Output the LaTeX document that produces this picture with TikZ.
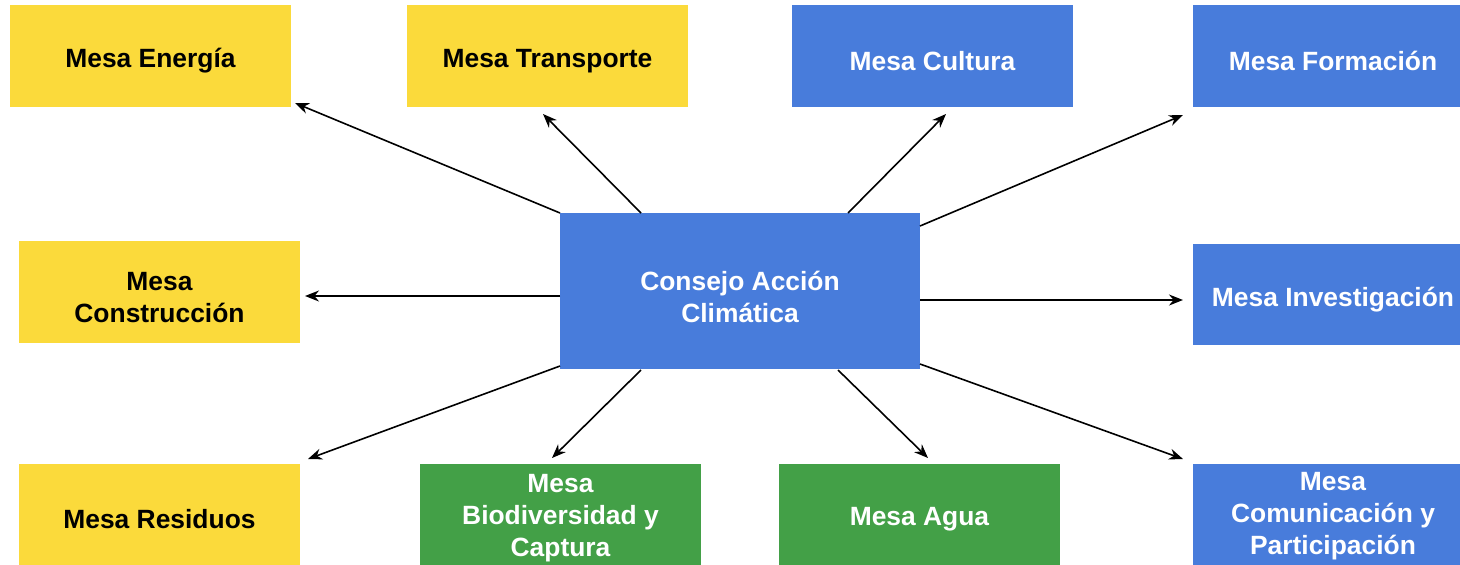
\documentclass[tikz,border=0pt]{standalone}
\usepackage{fontspec}
\setmainfont{Liberation Sans}
\usetikzlibrary{arrows.meta}
\definecolor{myyellow}{RGB}{251,218,59}
\definecolor{myblue}{RGB}{72,124,219}
\definecolor{mygreen}{RGB}{67,160,71}
\begin{document}
\begin{tikzpicture}[x=1pt,y=-1pt,
  box/.style={inner sep=0pt,align=center,font=\fontsize{26.4}{32}\selectfont\bfseries},
  ybox/.style={box,text=black},
  bbox/.style={box,text=white},
  gbox/.style={box,text=white},
  conn/.style={line width=1.6pt,-{Stealth[length=14pt,width=11pt]}}]
\useasboundingbox (0,0) rectangle (1460,565);
% boxes
\fill[myyellow] (10,5) rectangle (291,107);
\node[ybox] (ene) at (150.5,61) {Mesa Energía};
\fill[myyellow] (407,5) rectangle (688,107);
\node[ybox] (tra) at (547.5,61) {Mesa Transporte};
\fill[myblue] (792,5) rectangle (1073,107);
\node[bbox] (cul) at (932.5,61) {Mesa Cultura};
\fill[myblue] (1193,5) rectangle (1460,107);
\node[bbox] (for) at (1333,61) {Mesa Formación};
\fill[myyellow] (19,241) rectangle (300,343);
\node[ybox] (con) at (159.5,298) {Mesa\\Construcción};
\fill[myblue] (560,213) rectangle (920,369);
\node[bbox] (cac) at (740,297) {Consejo Acción\\Climática};
\fill[myblue] (1193,244) rectangle (1460,345);
\node[bbox] (inv) at (1333,300) {Mesa Investigación};
\fill[myyellow] (19,464) rectangle (300,565);
\node[ybox] (res) at (159.5,519) {Mesa Residuos};
\fill[mygreen] (420,464) rectangle (701,565);
\node[gbox] (bio) at (560.5,518) {Mesa\\Biodiversidad y\\Captura};
\fill[mygreen] (779,464) rectangle (1060,565);
\node[gbox] (agu) at (919.5,519) {Mesa Agua};
\fill[myblue] (1193,464) rectangle (1460,565);
\node[bbox] (com) at (1333,516) {Mesa\\Comunicación y\\Participación};
% connector end points
\coordinate (s1) at (560,213); \coordinate (e1) at (295,103);
\coordinate (s2) at (641,213); \coordinate (e2) at (543,114);
\coordinate (s3) at (848,213); \coordinate (e3) at (946,114);
\coordinate (s4) at (920,226); \coordinate (e4) at (1183,115);
\coordinate (s5) at (560,296); \coordinate (e5) at (305,296);
\coordinate (s6) at (920,300); \coordinate (e6) at (1183,300);
\coordinate (s7) at (560,366); \coordinate (e7) at (308,459);
\coordinate (s8) at (641,370); \coordinate (e8) at (552,458);
\coordinate (s9) at (838,370); \coordinate (e9) at (928,458);
\coordinate (s10) at (920,364); \coordinate (e10) at (1183,459);
\foreach \i in {1,...,10} {\draw[conn] (s\i) -- (e\i);}
\end{tikzpicture}
\end{document}
